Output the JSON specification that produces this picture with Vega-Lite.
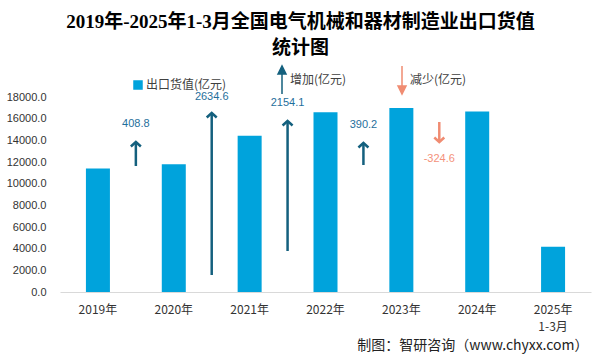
{
  "$schema": "https://vega.github.io/schema/vega-lite/v6.json",
  "width": 531,
  "height": 195,
  "autosize": {"type": "none"},
  "padding": {"left": 60, "top": 97, "right": 10, "bottom": 64},
  "background": "#ffffff",
  "title": {
    "text": ["2019年-2025年1-3月全国电气机械和器材制造业出口货值", "统计图"],
    "font": "Liberation Serif, Noto Sans CJK SC",
    "fontSize": 19,
    "fontWeight": "bold",
    "lineHeight": 26,
    "color": "#000000",
    "anchor": "middle",
    "dx": -25,
    "offset": 16
  },
  "config": {
    "view": {"stroke": null},
    "font": "Noto Sans CJK SC",
    "axis": {"labelOverlap": false},
    "axisY": {"labelOverlap": false},
    "legend": {
      "title": null,
      "orient": "none",
      "direction": "horizontal",
      "legendX": 72,
      "legendY": -23,
      "padding": 0,
      "columnPadding": 48,
      "symbolSize": 64,
      "labelOffset": 2,
      "labelFont": "Noto Sans CJK SC",
      "labelFontSize": 12,
      "labelColor": "#404040"
    }
  },
  "datasets": {
    "bars": [
      {"year": "2019年", "value": 11390},
      {"year": "2020年", "value": 11798.8},
      {"year": "2021年", "value": 14433.4},
      {"year": "2022年", "value": 16587.5},
      {"year": "2023年", "value": 16977.7},
      {"year": "2024年", "value": 16653.1},
      {"year": "2025年1-3月", "value": 4180}
    ],
    "arrows": [
      {"year": "2019年", "start": 11631, "tip": 13846, "labelPos": 15508, "label": "408.8", "dir": "增加(亿元)"},
      {"year": "2020年", "start": 1569, "tip": 16523, "labelPos": 18000, "label": "2634.6", "dir": "增加(亿元)"},
      {"year": "2021年", "start": 3785, "tip": 15785, "labelPos": 17446, "label": "2154.1", "dir": "增加(亿元)"},
      {"year": "2022年", "start": 11723, "tip": 13754, "labelPos": 15415, "label": "390.2", "dir": "增加(亿元)"},
      {"year": "2023年", "start": 15692, "tip": 13846, "labelPos": 12277, "label": "-324.6", "dir": "减少(亿元)"}
    ]
  },
  "layer": [
    {
      "data": {"name": "bars"},
      "mark": {"type": "bar", "size": 24},
      "encoding": {
        "x": {
          "field": "year",
          "type": "nominal",
          "sort": null,
          "scale": {"paddingInner": 0, "paddingOuter": 0},
          "axis": {
            "title": "制图：智研咨询（www.chyxx.com）",
            "titleFont": "Noto Sans CJK SC",
            "titleFontSize": 14,
            "titleFontWeight": "normal",
            "titleColor": "#222222",
            "titleAlign": "right",
            "titleAnchor": "end",
            "titleX": 528,
            "titleY": 53,
            "titleBaseline": "middle",
            "labelAngle": 0,
            "labelFont": "Noto Sans CJK SC",
            "labelFontSize": 12,
            "labelColor": "#333333",
            "labelPadding": 12,
            "labelLineHeight": 17,
            "labelExpr": "datum.value == '2025年1-3月' ? ['2025年', '1-3月'] : datum.value",
            "ticks": false,
            "domainColor": "#d9d9d9",
            "domainWidth": 1
          }
        },
        "y": {
          "field": "value",
          "type": "quantitative",
          "scale": {"domain": [0, 18000], "nice": false},
          "axis": {
            "title": null,
            "tickCount": 9,
            "format": ".1f",
            "grid": false,
            "domain": false,
            "ticks": false,
            "labelOverlap": false,
            "labelPadding": 14,
            "labelFont": "Liberation Sans",
            "labelFontSize": 11,
            "labelColor": "#333333"
          }
        },
        "color": {
          "datum": "出口货值(亿元)",
          "title": null,
          "scale": {
            "domain": ["出口货值(亿元)", "增加(亿元)", "减少(亿元)"],
            "range": ["#00a3dc", "#14607e", "#f08c72"]
          },
          "legend": {
            "title": null,
            "encode": {
              "symbols": {
                "update": {
                  "shape": {"signal": "datum.value == '出口货值(亿元)' ? 'square' : (datum.value == '增加(亿元)' ? 'M0,3.5L0,-1.5M-1,-1.5L0,-3.5L1,-1.5Z' : 'M0,-3.5L0,1.5M-1,1.5L0,3.5L1,1.5Z')"},
                  "size": {"value": 64},
                  "fill": {"scale": "color", "field": "value"},
                  "stroke": {"scale": "color", "field": "value"},
                  "strokeWidth": {"value": 1.5},
                  "opacity": {"value": 1},
                  "fillOpacity": {"value": 1}
                }
              }
            }
          }
        }
      }
    },
    {
      "data": {"name": "arrows"},
      "mark": {"type": "rule", "strokeWidth": 2.5},
      "encoding": {
        "x": {"field": "year", "type": "nominal", "sort": null, "bandPosition": 1},
        "y": {"field": "start", "type": "quantitative"},
        "y2": {"field": "tip"},
        "color": {"field": "dir", "type": "nominal", "title": null}
      }
    },
    {
      "data": {"name": "arrows"},
      "transform": [{"filter": "datum.dir == '增加(亿元)'"}],
      "mark": {"type": "point", "shape": "M-1,0.9L0,0L1,0.9", "size": 100, "filled": false, "strokeWidth": 2.5, "opacity": 1},
      "encoding": {
        "x": {"field": "year", "type": "nominal", "sort": null, "bandPosition": 1},
        "y": {"field": "tip", "type": "quantitative"},
        "color": {"field": "dir", "type": "nominal", "title": null}
      }
    },
    {
      "data": {"name": "arrows"},
      "transform": [{"filter": "datum.dir == '减少(亿元)'"}],
      "mark": {"type": "point", "shape": "M-1,-0.9L0,0L1,-0.9", "size": 100, "filled": false, "strokeWidth": 2.5, "opacity": 1},
      "encoding": {
        "x": {"field": "year", "type": "nominal", "sort": null, "bandPosition": 1},
        "y": {"field": "tip", "type": "quantitative"},
        "color": {"field": "dir", "type": "nominal", "title": null}
      }
    },
    {
      "data": {"name": "arrows"},
      "mark": {"type": "text", "font": "Liberation Sans", "fontSize": 11, "baseline": "middle", "align": "center"},
      "encoding": {
        "x": {"field": "year", "type": "nominal", "sort": null, "bandPosition": 1},
        "y": {"field": "labelPos", "type": "quantitative"},
        "text": {"field": "label"},
        "color": {
          "condition": {"test": "datum.dir == '减少(亿元)'", "value": "#f4917a"},
          "value": "#1f6f9c"
        }
      }
    }
  ]
}
